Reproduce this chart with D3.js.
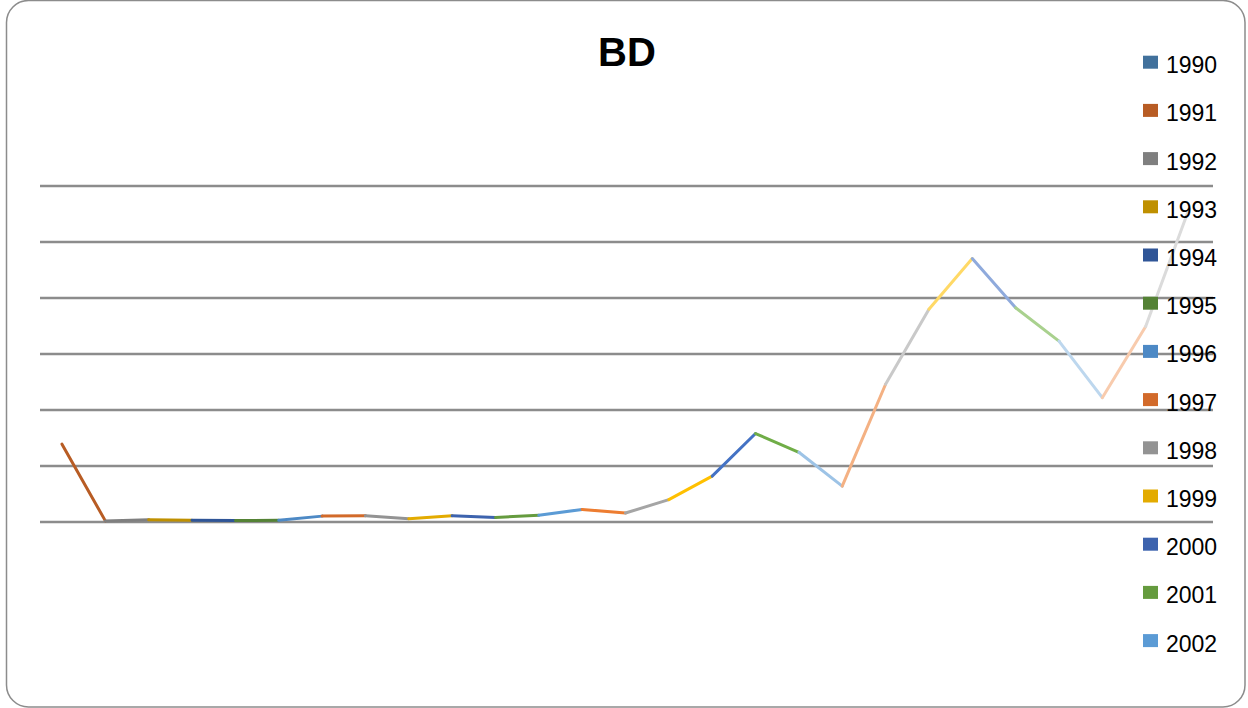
<!DOCTYPE html>
<html>
<head>
<meta charset="utf-8">
<script src="https://cdn.jsdelivr.net/npm/d3@7/dist/d3.min.js"></script>
<style>
  html, body { margin: 0; padding: 0; background: #ffffff; }
  svg { display: block; }
</style>
</head>
<body>
<svg id="chart" width="1248" height="708"></svg>
<script>
// ---- data ----
const title = "BD";
const categories = ["1990","1991","1992","1993","1994","1995","1996","1997","1998","1999",
  "2000","2001","2002","2003","2004","2005","2006","2007","2008","2009",
  "2010","2011","2012","2013","2014","2015","2016"];
const values = [139, 2, 4, 3, 2.5, 3, 10.5, 11, 6, 11,
  8, 12, 22.5, 16, 40, 82, 158, 124.5, 64, 246,
  380, 470.5, 382.5, 323, 222, 349, 559];
const pointColors = ["#41719C","#B85C24","#7F7F7F","#BF9000","#2F5597","#548235",
  "#4D89C5","#D26A2A","#939393","#E3AB00","#3D63AE","#659B3E",
  "#5B9BD5","#ED7D31","#A5A5A5","#FFC000","#4472C4","#70AD47",
  "#9DC3E6","#F4B183","#C9C9C9","#FFD966","#8FAADC","#A9D18E",
  "#BDD7EE","#F8CBAD","#DBDBDB"];
const gridTicks = [0, 100, 200, 300, 400, 500, 600];
const legendItems = categories.slice(0, 13);

// ---- drawing ----
const svg = d3.select("#chart");

svg.append("rect")
  .attr("x", 6.5).attr("y", 0.5)
  .attr("width", 1238.5).attr("height", 706.5)
  .attr("rx", 22).attr("ry", 22)
  .attr("fill", "#ffffff")
  .attr("stroke", "#8c8c8c").attr("stroke-width", 1.5);

const x = d3.scalePoint().domain(categories).range([62, 1189]);
const y = d3.scaleLinear().domain([0, 600]).range([522, 186]);

// gridlines
svg.append("g").selectAll("line").data(gridTicks).join("line")
  .attr("x1", 40).attr("x2", 1213)
  .attr("y1", d => y(d)).attr("y2", d => y(d))
  .attr("stroke", "#8c8c8c").attr("stroke-width", 2.4);

// line segments (varied colors by point)
const segs = d3.range(1, categories.length).map(i => ({
  x1: x(categories[i-1]), y1: y(values[i-1]),
  x2: x(categories[i]), y2: y(values[i]),
  c: pointColors[i]
}));
svg.append("g").selectAll("line").data(segs).join("line")
  .attr("x1", d => d.x1).attr("y1", d => d.y1)
  .attr("x2", d => d.x2).attr("y2", d => d.y2)
  .attr("stroke", d => d.c)
  .attr("stroke-width", 3)
  .attr("stroke-linecap", "round");

// title
svg.append("text")
  .attr("x", 627).attr("y", 66)
  .attr("text-anchor", "middle")
  .attr("font-family", "Liberation Sans, Arial, sans-serif")
  .attr("font-weight", "bold")
  .attr("font-size", 40)
  .attr("fill", "#000")
  .text(title);

// legend
const lg = svg.append("g");
const rowY = i => 62.2 + i * 48.2;
lg.selectAll("rect").data(legendItems).join("rect")
  .attr("x", 1143).attr("y", (d, i) => rowY(i) - 6.5)
  .attr("width", 15).attr("height", 13)
  .attr("fill", (d, i) => pointColors[i]);
lg.selectAll("text").data(legendItems).join("text")
  .attr("x", 1166).attr("y", (d, i) => rowY(i) + 11)
  .attr("font-family", "Liberation Sans, Arial, sans-serif")
  .attr("font-size", 23)
  .attr("fill", "#000")
  .text(d => d);
</script>
</body>
</html>
